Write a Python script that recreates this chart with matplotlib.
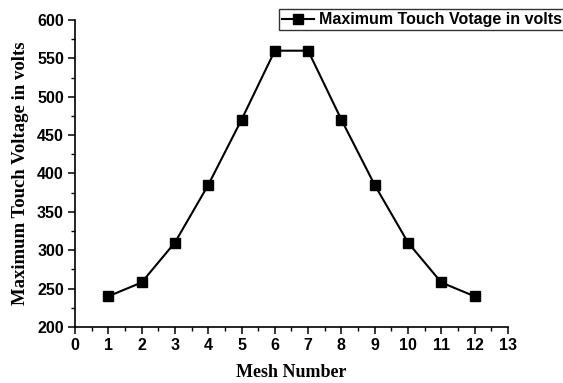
import matplotlib
matplotlib.use('Agg')
import matplotlib.pyplot as plt
from matplotlib.ticker import MultipleLocator

mesh = [1, 2, 3, 4, 5, 6, 7, 8, 9, 10, 11, 12]
touch_voltage = [240, 258, 310, 385, 470, 560, 560, 470, 385, 310, 258, 240]

fig = plt.figure(figsize=(5.63, 3.83), dpi=100)
ax = fig.add_axes([0.1332, 0.1462, 0.769, 0.8016])

ax.plot(mesh, touch_voltage, color='black', lw=1.5, marker='s', ms=7,
        label='Maximum Touch Votage in volts')

ax.set_xlim(0, 13)
ax.set_ylim(200, 600)
ax.xaxis.set_major_locator(MultipleLocator(1))
ax.xaxis.set_minor_locator(MultipleLocator(0.5))
ax.yaxis.set_major_locator(MultipleLocator(50))
ax.yaxis.set_minor_locator(MultipleLocator(25))

for s in ['top', 'right']:
    ax.spines[s].set_visible(False)
for s in ['left', 'bottom']:
    ax.spines[s].set_linewidth(1.2)

ax.tick_params(which='major', direction='out', length=5, width=1.1, pad=3)
ax.tick_params(which='minor', direction='out', length=3, width=1.0)
for lbl in ax.get_xticklabels() + ax.get_yticklabels():
    lbl.set_fontfamily('Liberation Sans')
    lbl.set_fontweight('bold')
    lbl.set_fontsize(11.5)

ax.set_xlabel('Mesh Number', fontfamily='Liberation Serif', fontweight='bold',
              fontsize=13, labelpad=8)
ax.set_ylabel('Maximum Touch Voltage in volts', fontfamily='Liberation Serif', fontweight='bold',
              fontsize=13.5, labelpad=6)

leg = ax.legend(loc='upper left', bbox_to_anchor=(279 / 563, 1 - 9 / 383),
                bbox_transform=fig.transFigure, frameon=True, fancybox=False,
                edgecolor='black', handlelength=2.0, handletextpad=0.3, borderpad=0.2,
                borderaxespad=0,
                prop={'family': 'Liberation Sans', 'weight': 'bold', 'size': 11.5})
leg.get_frame().set_linewidth(1.0)

fig.savefig('out.png', dpi=100)
